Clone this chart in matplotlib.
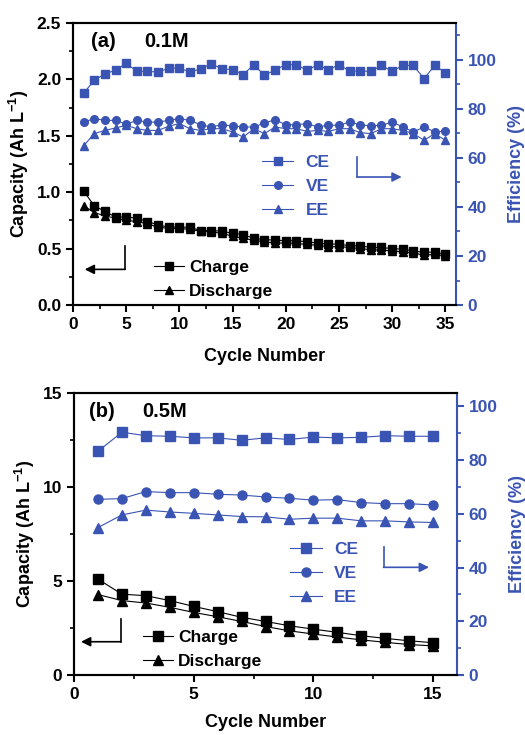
import numpy as np
import matplotlib
matplotlib.use("Agg")
from matplotlib import pyplot as plt
from matplotlib.ticker import MultipleLocator

plt.rcParams.update({
    "font.family": ["Liberation Sans", "DejaVu Sans"],
    "font.weight": "bold",
    "axes.labelweight": "bold",
    "mathtext.default": "regular",
    "xtick.direction": "out",
    "ytick.direction": "out",
})

BLUE = "#3a54b4"

# ---- panel (a): 0.1M, 35 cycles ----
cycles_a = np.arange(1, 36)
charge_a = [1.01, 0.88, 0.83, 0.78, 0.78, 0.77, 0.74, 0.71, 0.69, 0.69,
            0.69, 0.66, 0.66, 0.655, 0.635, 0.625, 0.59, 0.58, 0.575, 0.57,
            0.57, 0.56, 0.55, 0.54, 0.54, 0.525, 0.525, 0.51, 0.51, 0.50,
            0.495, 0.48, 0.466, 0.47, 0.45]
discharge_a = [0.88, 0.82, 0.79, 0.77, 0.75, 0.74, 0.72, 0.69, 0.68, 0.68,
               0.67, 0.655, 0.65, 0.635, 0.61, 0.59, 0.575, 0.56, 0.55, 0.55,
               0.546, 0.537, 0.53, 0.517, 0.517, 0.51, 0.50, 0.49, 0.487, 0.48,
               0.47, 0.463, 0.44, 0.45, 0.434]
ce_a = [86.4, 91.6, 94.3, 95.7, 98.6, 95.3, 95.3, 95.0, 96.6, 96.6,
        95.0, 96.3, 98.4, 96.3, 96.0, 94.0, 98.0, 93.6, 95.9, 98.0,
        98.0, 95.7, 98.0, 95.9, 98.0, 95.4, 95.4, 95.3, 97.7, 95.3,
        97.7, 97.7, 92.3, 97.7, 94.7]
ve_a = [74.6, 76.0, 75.3, 75.3, 73.7, 75.3, 74.6, 74.6, 75.3, 76.0,
        75.3, 73.5, 72.6, 73.5, 73.0, 72.6, 72.6, 74.2, 75.6, 73.5,
        73.5, 74.0, 72.6, 73.3, 73.3, 74.6, 73.5, 73.0, 73.3, 74.6,
        72.6, 70.6, 72.6, 70.6, 70.8]
ee_a = [64.9, 69.9, 71.2, 72.2, 73.3, 71.9, 71.2, 71.2, 72.9, 74.0,
        71.9, 71.2, 71.9, 71.9, 70.6, 68.5, 71.9, 69.9, 72.6, 71.9,
        71.9, 70.8, 71.2, 70.8, 71.9, 71.9, 70.3, 69.9, 71.9, 71.9,
        71.2, 69.9, 67.2, 69.9, 67.2]

# ---- panel (b): 0.5M, 15 cycles ----
cycles_b = np.arange(1, 16)
charge_b = [5.1, 4.3, 4.22, 3.96, 3.65, 3.37, 3.07, 2.85, 2.62, 2.44,
            2.27, 2.09, 1.95, 1.82, 1.72]
discharge_b = [4.28, 3.96, 3.83, 3.6, 3.33, 3.1, 2.85, 2.58, 2.35, 2.18,
               2.02, 1.87, 1.74, 1.62, 1.55]
ce_b = [83.3, 90.4, 89.1, 88.9, 88.3, 88.3, 87.4, 88.3, 87.7, 88.6,
        88.3, 88.5, 89.1, 88.9, 88.9]
ve_b = [65.4, 65.7, 68.3, 67.9, 67.9, 67.3, 67.0, 66.3, 65.8, 65.1,
        65.3, 64.2, 63.8, 63.8, 63.3]
ee_b = [54.9, 59.6, 61.4, 60.7, 60.2, 59.6, 59.0, 58.9, 58.0, 58.4,
        58.4, 57.4, 57.4, 57.0, 56.8]


def draw_panel(fig, rect, x, charge, discharge, ce, ve, ee, cfg):
    ax = fig.add_axes(rect)
    ax2 = ax.twinx()
    ms = cfg["ms"]

    ax.plot(x, charge, "-s", color="black", lw=0.8, ms=ms, label="Charge")
    ax.plot(x, discharge, "-^", color="black", lw=0.8, ms=ms, label="Discharge")
    ax2.plot(x, ce, "-s", color=BLUE, lw=0.8, ms=ms, label="CE")
    ax2.plot(x, ve, "-o", color=BLUE, lw=0.8, ms=ms, label="VE")
    ax2.plot(x, ee, "-^", color=BLUE, lw=0.8, ms=ms, label="EE")

    ax.set_xlim(0, cfg["xmax"])
    ax.set_ylim(0, cfg["cap_max"])
    ax2.set_ylim(0, cfg["eff_max"])
    ax.xaxis.set_major_locator(MultipleLocator(5))
    ax.xaxis.set_minor_locator(MultipleLocator(2.5))
    ax.yaxis.set_major_locator(MultipleLocator(cfg["cap_step"]))
    ax.yaxis.set_minor_locator(MultipleLocator(cfg["cap_step"] / 2))
    ax2.yaxis.set_major_locator(MultipleLocator(20))
    ax2.yaxis.set_minor_locator(MultipleLocator(10))
    if cfg["cap_step"] < 1:
        ax.yaxis.set_major_formatter(lambda v, p: f"{v:.1f}")

    for a in (ax, ax2):
        for s in a.spines.values():
            s.set_linewidth(1.5)
    ax.spines["right"].set_visible(False)
    ax2.spines["right"].set_color(BLUE)

    ax.tick_params(which="major", length=5, width=1.5, labelsize=12.5)
    ax.tick_params(which="minor", length=3, width=1.2)
    ax2.tick_params(which="major", length=5, width=1.5, labelsize=12.5,
                    colors=BLUE)
    ax2.tick_params(which="minor", length=3, width=1.2, colors=BLUE)

    ax.set_xlabel("Cycle Number", fontsize=13, labelpad=cfg["xpad"])
    ax.set_ylabel("Capacity (Ah L$^{-1}$)", fontsize=13)
    ax2.set_ylabel("Efficiency (%)", fontsize=13, color=BLUE, labelpad=8)

    tx, cx = cfg["tag_x"]
    ax.text(tx, 0.933, cfg["tag"], transform=ax.transAxes, fontsize=14.5,
            fontweight="bold", va="center")
    ax.text(cx, 0.933, cfg["conc"], transform=ax.transAxes, fontsize=14.5,
            fontweight="bold", va="center")

    ax.legend(loc="center left", bbox_to_anchor=cfg["leg_k"], frameon=False,
              fontsize=12.5, handlelength=1.7, handletextpad=0.3,
              labelspacing=0.5, borderaxespad=0, borderpad=0)
    ax2.legend(loc="center left", bbox_to_anchor=cfg["leg_b"], frameon=False,
               fontsize=12.5, handlelength=1.8, handletextpad=0.7,
               labelspacing=0.5, borderaxespad=0, borderpad=0,
               labelcolor=BLUE)

    # pointer arrows
    lx, ly0, ly1, lx_end = cfg["arrow_left"]
    ax.plot([lx, lx], [ly0, ly1], color="black", lw=1.2)
    ax.annotate("", xy=(lx_end, ly1), xytext=(lx, ly1),
                arrowprops=dict(arrowstyle="-|>", color="black", lw=1.2,
                                mutation_scale=14, shrinkA=0, shrinkB=0))
    rx, ry0, ry1, rx_end = cfg["arrow_right"]
    ax2.plot([rx, rx], [ry0, ry1], color=BLUE, lw=1.2)
    ax2.annotate("", xy=(rx_end, ry1), xytext=(rx, ry1),
                 arrowprops=dict(arrowstyle="-|>", color=BLUE, lw=1.2,
                                 mutation_scale=14, shrinkA=0, shrinkB=0))
    return ax, ax2


fig = plt.figure(figsize=(5.25, 7.35), dpi=100)

cfg_a = dict(ms=5.5, xmax=36, cap_max=2.5, cap_step=0.5, eff_max=115,
             tag="(a)", conc="0.1M", tag_x=(0.047, 0.186), xpad=12,
             leg_k=(0.212, 0.09), leg_b=(0.494, 0.42),
             arrow_left=(4.9, 0.52, 0.316, 1.1),
             arrow_right=(26.7, 60.3, 52.2, 30.9))
draw_panel(fig, [0.139, 0.585, 0.7295, 0.3837], cycles_a,
           charge_a, discharge_a, ce_a, ve_a, ee_a, cfg_a)

cfg_b = dict(ms=6.5, xmax=16, cap_max=15, cap_step=5, eff_max=105,
             tag="(b)", conc="0.5M", tag_x=(0.04, 0.178), xpad=9,
             leg_k=(0.181, 0.09), leg_b=(0.565, 0.36),
             arrow_left=(1.95, 2.96, 1.77, 0.29),
             arrow_right=(12.93, 47.8, 40.1, 14.83))
draw_panel(fig, [0.141, 0.0816, 0.7295, 0.3837], cycles_b,
           charge_b, discharge_b, ce_b, ve_b, ee_b, cfg_b)

fig.savefig("out.png", dpi=100)
